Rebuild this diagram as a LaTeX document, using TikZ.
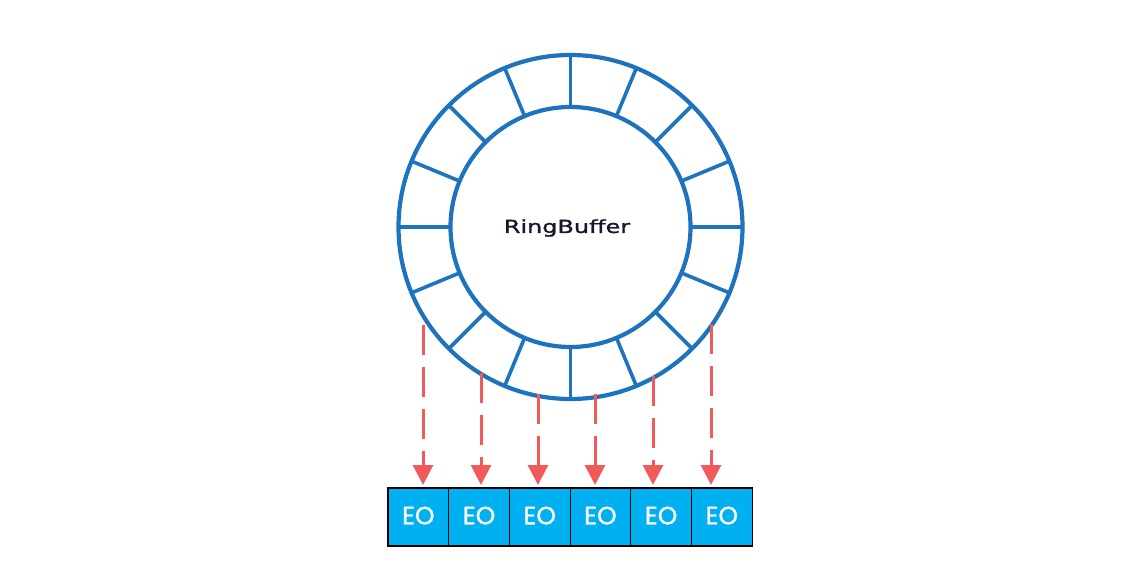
\documentclass[tikz,border=0pt]{standalone}
\usepackage{fontspec}
\usepackage{graphicx}
\usepackage{tikz}
\usetikzlibrary{positioning, arrows.meta}
\newfontfamily\ringfont[FakeBold=1.2]{DejaVu Sans}
\newfontfamily\boxfont[FakeBold=1.2]{Poppins}
\definecolor{ringblue}{RGB}{30, 115, 190}
\definecolor{arrowred}{RGB}{240, 90, 90}
\definecolor{eocyan}{RGB}{0, 176, 240}
\definecolor{inkdark}{RGB}{20, 24, 40}

\begin{document}
\begin{tikzpicture}[x=1pt, y=1pt,
  eobox/.style={draw=black, line width=1.2pt, fill=eocyan, minimum width=60.7pt, minimum height=58pt,
    inner sep=0pt, outer sep=0pt, text=white, font=\boxfont\fontsize{25}{25}\selectfont},
  feed/.style={draw=arrowred, line width=3pt, dash pattern=on 30pt off 12pt, shorten >=3pt,
    -{Triangle[width=20pt, length=20pt]}}
]
  \useasboundingbox (0, 0) rectangle (1142, 568);

  % the ring
  \coordinate (c) at (570.5, 341);
  \draw[ringblue, line width=4.2pt] (c) circle (172);
  \draw[ringblue, line width=4.2pt] (c) circle (120);
  \foreach \a in {0, 22.5, ..., 337.5}
    \draw[ringblue, line width=3.6pt] ([shift={(\a:120)}]c) -- ([shift={(\a:172)}]c);
  \node[text=inkdark, font=\ringfont\fontsize{18}{18}\selectfont] (label) at (567, 340)
    {\scalebox{1.33}[1]{RingBuffer}};

  % the event objects
  \node[eobox, anchor=north west] (eo1) at (388, 80) {\raisebox{3pt}{EO}};
  \foreach \i [count=\j from 2] in {1,...,5}
    \node[eobox, right=0pt of eo\i] (eo\j) {\raisebox{3pt}{EO}};

  \coordinate (s1) at (423, 243);
  \coordinate (s2) at (481, 195);
  \coordinate (s3) at (538, 174);
  \coordinate (s4) at (595, 174);
  \coordinate (s5) at (653, 192);
  \coordinate (s6) at (711, 244);
  \foreach \i in {1,...,6}
    \draw[feed] (s\i) -- (s\i |- eo\i.north);
\end{tikzpicture}
\end{document}
